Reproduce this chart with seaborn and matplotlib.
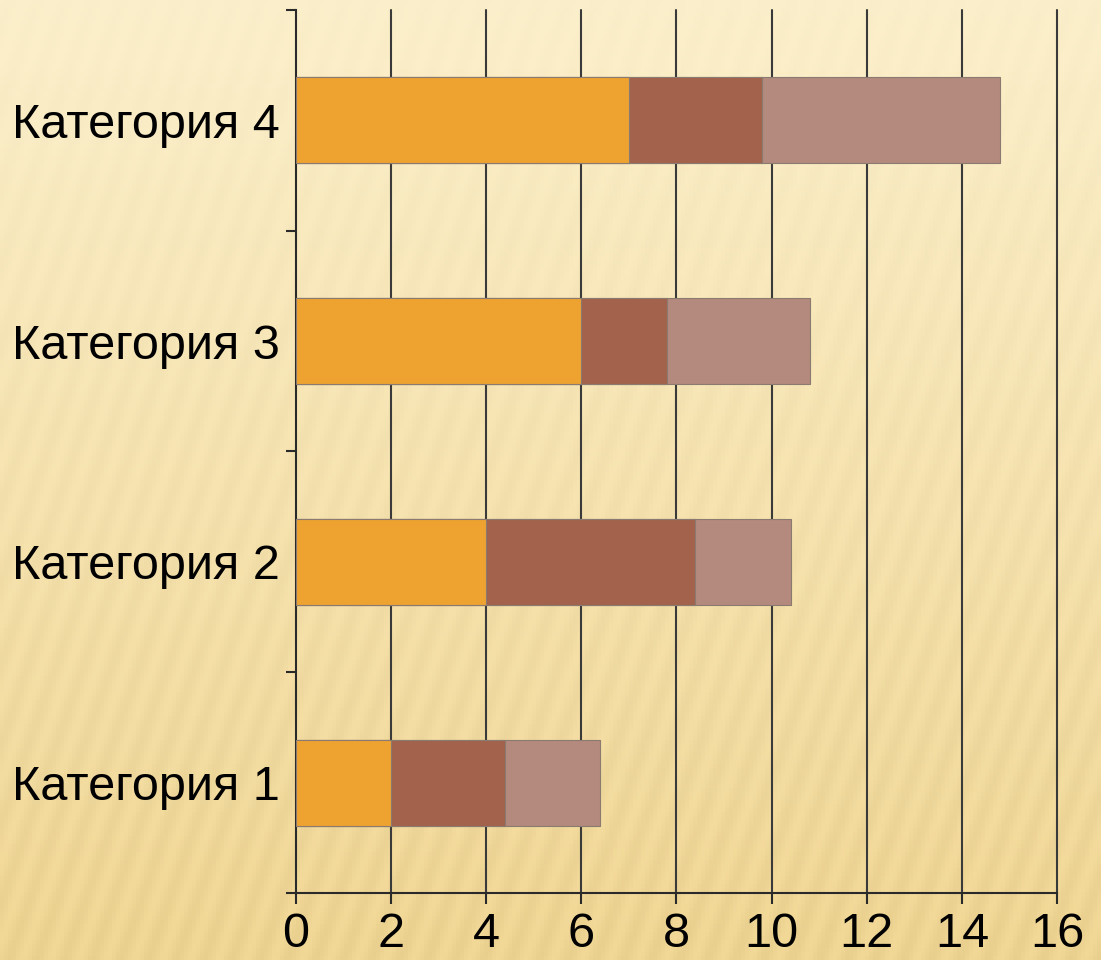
import numpy as np
import pandas as pd
import matplotlib
matplotlib.use("Agg")
import matplotlib.pyplot as plt
import seaborn as sns

categories = ["Категория 1", "Категория 2", "Категория 3", "Категория 4"]
series_1 = [2.0, 4.0, 6.0, 7.0]
series_2 = [2.4, 4.4, 1.8, 2.8]
series_3 = [2.0, 2.0, 3.0, 5.0]
x_ticks = [0, 2, 4, 6, 8, 10, 12, 14, 16]

colors = ["#EEA230", "#A2624C", "#B38A7D"]

sns.set_theme(style="white")
plt.rcParams["font.family"] = ["Liberation Sans", "DejaVu Sans"]

df = pd.DataFrame({"category": categories, "s1": series_1, "s2": series_2, "s3": series_3})
df["c1"] = df["s1"]
df["c2"] = df["s1"] + df["s2"]
df["c3"] = df["c2"] + df["s3"]

fig = plt.figure(figsize=(11.01, 9.6), dpi=100)

# background: soft beige gradient with faint slanted stripes
bg = fig.add_axes([0, 0, 1, 1])
h, w = 240, 275
yy, xx = np.mgrid[0:h, 0:w]
t = yy / h
stripes = 0.5 + 0.5 * np.sin((xx + 0.35 * yy) * 0.9)
top_col = np.array([252, 240, 204]) / 255
bot_col = np.array([242, 216, 150]) / 255
img = top_col * (1 - t[..., None]) + bot_col * t[..., None]
img = img - 0.025 * stripes[..., None] * (0.3 + t[..., None])
bg.imshow(np.clip(img, 0, 1), aspect="auto", extent=[0, 1, 0, 1], zorder=0)
bg.axis("off")

ax = fig.add_axes([0.2688, 0.0698, 0.6912, 0.9198])
ax.patch.set_alpha(0)

order = categories[::-1]
for col, c in zip(["c3", "c2", "c1"], colors[::-1]):
    sns.barplot(data=df, x=col, y="category", order=order, orient="h",
                color=c, width=0.39, edgecolor="#8a7a70", linewidth=0.8,
                saturation=1, ax=ax, zorder=3)

ax.set_xlim(0, 16)
ax.set_ylim(3.5, -0.5)
ax.set_xticks(x_ticks)
ax.set_xticklabels([str(v) for v in x_ticks])
ax.set_yticks(range(4))
ax.set_yticks(np.arange(-0.5, 4.0, 1.0), minor=True)
ax.set_xlabel("")
ax.set_ylabel("")

ax.grid(False)
for v in x_ticks[1:]:
    ax.axvline(v, color="#3a3a3a", lw=1.5, zorder=1, clip_on=False)

for s in ["top", "right"]:
    ax.spines[s].set_visible(False)
for s in ["left", "bottom"]:
    ax.spines[s].set_color("#2a2a2a")
    ax.spines[s].set_linewidth(1.5)

ax.tick_params(axis="y", which="major", length=0, labelsize=35, pad=11.5, colors="black")
ax.tick_params(axis="y", which="minor", length=7, width=1.5, direction="out", color="#2a2a2a", left=True)
ax.tick_params(axis="x", length=8, width=1.5, direction="out", color="#2a2a2a",
               labelsize=35, pad=6, bottom=True, labelcolor="black")

fig.savefig("out.png", dpi=100)
